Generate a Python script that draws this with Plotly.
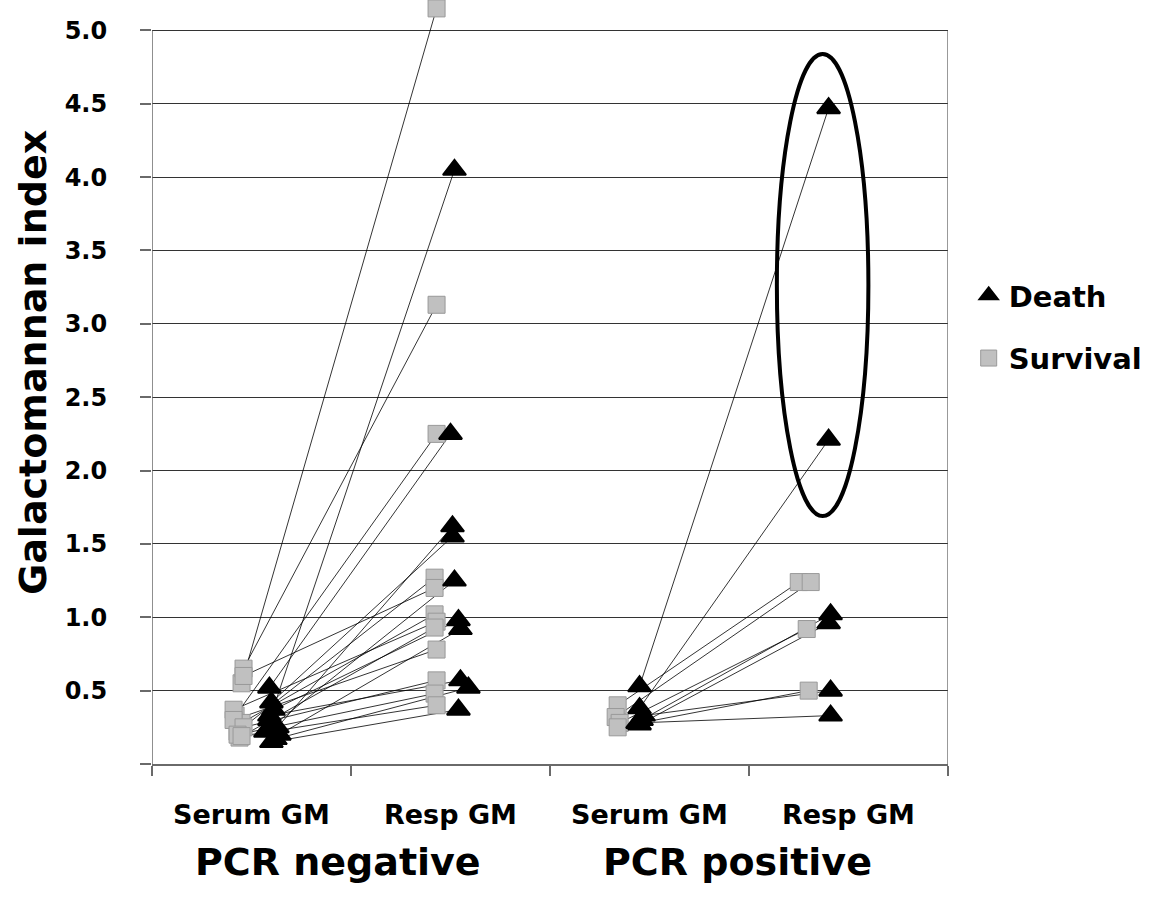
import plotly.graph_objects as go

# ---------------- data (Galactomannan index) ----------------
categories = ["Serum GM", "Resp GM", "Serum GM", "Resp GM"]
groups = ["PCR negative", "PCR positive"]
y_tick_vals = [0.0, 0.5, 1.0, 1.5, 2.0, 2.5, 3.0, 3.5, 4.0, 4.5, 5.0]
y_tick_text = ["", "0.5", "1.0", "1.5", "2.0", "2.5", "3.0", "3.5", "4.0", "4.5", "5.0"]

# PCR negative - survival (serum -> resp pairs)
neg_surv_serum = [0.55, 0.65, 0.33, 0.22, 0.60, 0.28, 0.37, 0.18, 0.30, 0.25, 0.20, 0.19]
neg_surv_resp = [5.15, 3.13, 2.25, 1.27, 1.20, 1.02, 0.97, 0.93, 0.78, 0.57, 0.48, 0.40]
# PCR negative - death
neg_death_serum = [0.30, 0.52, 0.25, 0.42, 0.22, 0.37, 0.20, 0.33, 0.17, 0.15]
neg_death_resp = [4.05, 2.25, 1.62, 1.55, 1.25, 0.98, 0.92, 0.57, 0.52, 0.37]
# PCR positive - survival
pos_surv_serum = [0.40, 0.32, 0.28, 0.25]
pos_surv_resp = [1.24, 1.24, 0.92, 0.50]
# PCR positive - death
pos_death_serum = [0.53, 0.38, 0.30, 0.27, 0.33, 0.28]
pos_death_resp = [4.47, 2.21, 1.02, 0.96, 0.50, 0.33]

# ---------------- horizontal placement (styling / jitter) ----------------
centers = [0.5, 1.5, 2.5, 3.5]
dx_neg_surv_serum = [-0.05, -0.04, -0.08, -0.07, -0.04, -0.05, -0.09, -0.06, -0.09, -0.04, -0.07, -0.05]
dx_neg_surv_resp = [-0.07, -0.07, -0.07, -0.08, -0.08, -0.08, -0.07, -0.08, -0.07, -0.07, -0.08, -0.07]
dx_neg_death_serum = [0.09, 0.09, 0.13, 0.10, 0.07, 0.11, 0.14, 0.09, 0.12, 0.10]
dx_neg_death_resp = [0.02, 0.0, 0.01, 0.01, 0.02, 0.04, 0.05, 0.05, 0.09, 0.04]
dx_pos_surv_serum = [-0.16, -0.17, -0.15, -0.16]
dx_pos_surv_resp = [-0.25, -0.19, -0.21, -0.20]
dx_pos_death_serum = [-0.05, -0.05, -0.04, -0.05, -0.03, -0.06]
dx_pos_death_resp = [-0.1, -0.1, -0.09, -0.1, -0.09, -0.09]

FONT = "DejaVu Sans"
SQ_FILL = "#C0C0C0"
SQ_LINE = "#999999"


def xs(center, dx):
    return [center + d for d in dx]


sets = [
    (centers[0], neg_surv_serum, dx_neg_surv_serum, centers[1], neg_surv_resp, dx_neg_surv_resp, "surv"),
    (centers[0], neg_death_serum, dx_neg_death_serum, centers[1], neg_death_resp, dx_neg_death_resp, "death"),
    (centers[2], pos_surv_serum, dx_pos_surv_serum, centers[3], pos_surv_resp, dx_pos_surv_resp, "surv"),
    (centers[2], pos_death_serum, dx_pos_death_serum, centers[3], pos_death_resp, dx_pos_death_resp, "death"),
]

fig = go.Figure()

# connecting lines
lx, ly = [], []
for c1, s, d1, c2, r, d2, kind in sets:
    for a, da, b, db in zip(s, d1, r, d2):
        lx += [c1 + da, c2 + db, None]
        ly += [a, b, None]
fig.add_trace(go.Scatter(x=lx, y=ly, mode="lines", line=dict(color="black", width=0.8),
                         showlegend=False, hoverinfo="skip", cliponaxis=False))

# markers: squares first, triangles on top
sq_x, sq_y, tr_x, tr_y = [], [], [], []
for c1, s, d1, c2, r, d2, kind in sets:
    px = xs(c1, d1) + xs(c2, d2)
    py = list(s) + list(r)
    if kind == "surv":
        sq_x += px
        sq_y += py
    else:
        tr_x += px
        tr_y += py

fig.add_trace(go.Scatter(
    x=sq_x, y=sq_y, mode="markers", name="Survival", legendgroup="s",
    marker=dict(symbol="square", size=17, color=SQ_FILL, line=dict(color=SQ_LINE, width=1)),
    cliponaxis=False, legendrank=2))
fig.add_trace(go.Scatter(
    x=tr_x, y=tr_y, mode="markers", name="Death", legendgroup="d",
    marker=dict(symbol="triangle-up", size=20, color="black", line=dict(color="black", width=2)),
    cliponaxis=False, legendrank=1))

# ellipse highlighting PCR positive high Resp GM deaths
fig.add_shape(type="circle", xref="x", yref="y", x0=3.14, x1=3.6, y0=1.69, y1=4.84,
              line=dict(color="black", width=4))
# left axis line and right border (stop at 5.0)
fig.add_shape(type="line", xref="x", yref="y", x0=0, x1=0, y0=0, y1=5.0,
              line=dict(color="#6a6a6a", width=1.5))
fig.add_shape(type="line", xref="x", yref="y", x0=4, x1=4, y0=0, y1=5.0,
              line=dict(color="#555555", width=1.2))

# category labels
for c, lab in zip(centers, categories):
    fig.add_annotation(x=c, y=-0.067, xref="x", yref="paper", text=lab, showarrow=False,
                       font=dict(family=FONT, size=27, color="black", weight="bold"),
                       yanchor="middle")
for c, lab in zip([0.937, 2.94], groups):
    fig.add_annotation(x=c, y=-0.129, xref="x", yref="paper", text=lab, showarrow=False,
                       font=dict(family=FONT, size=38, color="black", weight="bold"),
                       yanchor="middle")
# y-axis title
fig.add_annotation(x=-0.1495, y=0.529, xref="paper", yref="paper", text="Galactomannan index",
                   textangle=-90, showarrow=False, xanchor="center", yanchor="middle",
                   font=dict(family=FONT, size=38, color="black", weight="bold"))

fig.update_layout(
    width=1150, height=913,
    margin=dict(l=152, r=202, t=4, b=149, autoexpand=False),
    paper_bgcolor="white", plot_bgcolor="white",
    showlegend=True,
    legend=dict(x=1.026, y=0.65, xanchor="left", yanchor="top",
                font=dict(family=FONT, size=29, color="black", weight="bold"),
                tracegroupgap=22, bgcolor="rgba(0,0,0,0)"),
    xaxis=dict(range=[0, 4], tickvals=[0, 1, 2, 3, 4], showticklabels=False,
               ticks="outside", ticklen=10, tickcolor="#6a6a6a", tickwidth=1.5,
               showline=True, linecolor="#6a6a6a", linewidth=1.5, showgrid=False,
               zeroline=False),
    yaxis=dict(range=[0, 5.18], tickvals=y_tick_vals, ticktext=y_tick_text,
               ticks="outside", ticklen=11, tickcolor="#6a6a6a", tickwidth=1.5,
               showline=False, showgrid=True, gridcolor="#333333", gridwidth=1,
               zeroline=False, ticklabelstandoff=28,
               tickfont=dict(family=FONT, size=24, color="black", weight="bold")),
)

fig.write_html("out.html")
